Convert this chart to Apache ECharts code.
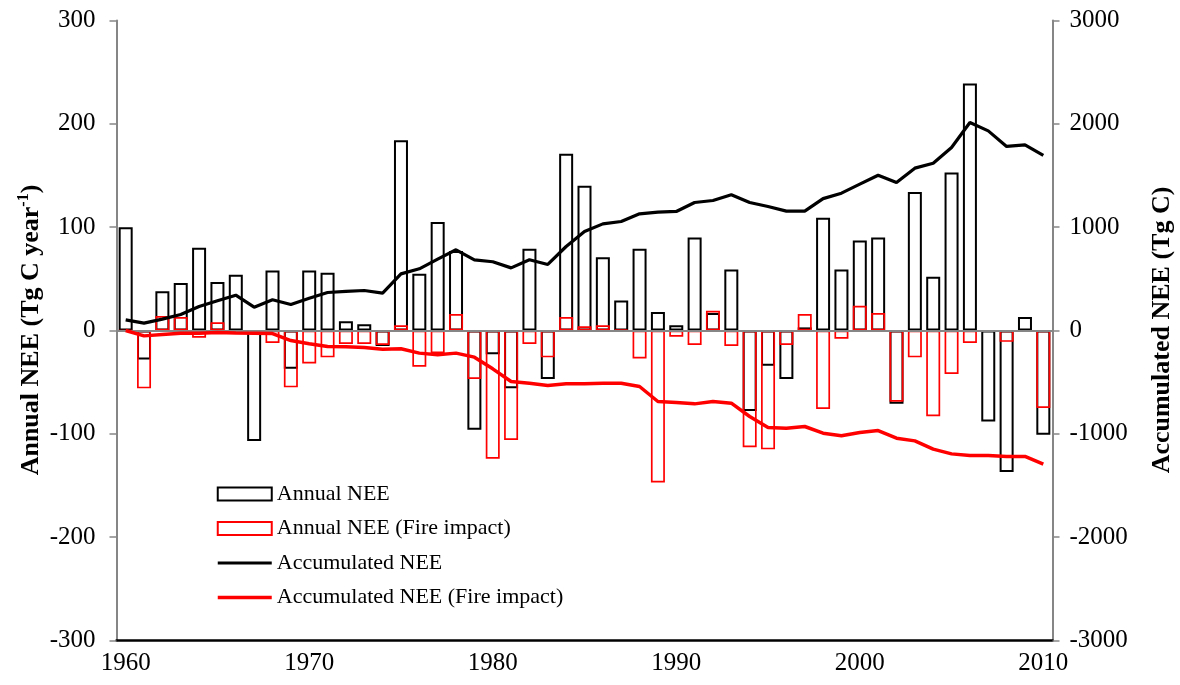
<!DOCTYPE html>
<html>
<head>
<meta charset="utf-8">
<script src="https://cdn.jsdelivr.net/npm/echarts@6/dist/echarts.min.js"></script>
<style>
  html, body { margin: 0; padding: 0; background: #fff; }
  #chart { width: 1180px; height: 685px; }
</style>
</head>
<body>
<div id="chart"></div>
<script>
// Years on the category axis
const years = ['1960','1961','1962','1963','1964','1965','1966','1967','1968','1969',
  '1970','1971','1972','1973','1974','1975','1976','1977','1978','1979',
  '1980','1981','1982','1983','1984','1985','1986','1987','1988','1989',
  '1990','1991','1992','1993','1994','1995','1996','1997','1998','1999',
  '2000','2001','2002','2003','2004','2005','2006','2007','2008','2009','2010'];

// Annual NEE (Tg C / year)
const annualNEE = [100, -28, 38, 46, 80, 47, 54, -107, 58, -37,
  58, 56, 9, 6, -15, 184, 55, 105, 77, -96,
  -23, -56, 79, -47, 171, 140, 71, 29, 79, 18,
  5, 90, 17, 59, -78, -34, -47, 3, 109, 59,
  87, 90, -71, 134, 52, 153, 239, -88, -137, 13, -101];

// Annual NEE including fire impact (Tg C / year)
const annualFire = [0, -56, 14, 13, -7, 8, -1, -2, -12, -55,
  -32, -26, -13, -13, -14, 5, -35, -22, 16, -47,
  -124, -106, -13, -26, 13, 4, 5, 1, -27, -147,
  -6, -14, 19, -15, -113, -115, -14, 16, -76, -8,
  24, 17, -69, -26, -83, -42, -12, -1, -11, -1, -75];

// Accumulated NEE (Tg C)
const accumNEE = [103, 71, 110, 155, 232, 287, 342, 226, 297, 252,
  313, 368, 379, 387, 361, 548, 597, 690, 781, 684,
  665, 606, 684, 639, 813, 958, 1032, 1055, 1129, 1145,
  1152, 1239, 1258, 1313, 1239, 1200, 1155, 1155, 1276, 1329,
  1416, 1503, 1432, 1571, 1619, 1771, 2013, 1932, 1781, 1797, 1694];

// Accumulated NEE including fire impact (Tg C)
const accumFire = [0, -52, -39, -26, -26, -19, -23, -26, -30, -97,
  -129, -155, -158, -165, -181, -177, -219, -235, -219, -258,
  -371, -494, -510, -532, -516, -516, -510, -510, -542, -687,
  -697, -710, -687, -703, -832, -939, -945, -929, -994, -1019,
  -987, -968, -1042, -1068, -1148, -1194, -1210, -1210, -1219, -1219, -1294];

const seriesNames = ['Annual NEE', 'Annual NEE (Fire impact)', 'Accumulated NEE', 'Accumulated NEE (Fire impact)'];

const serif = "'Liberation Serif', 'Times New Roman', serif";
const axisGray = '#868686';

const chart = echarts.init(document.getElementById('chart'), null, { renderer: 'canvas' });

chart.setOption({
  animation: false,
  backgroundColor: '#ffffff',
  textStyle: { fontFamily: serif, color: '#000' },
  grid: { left: 116.5, right: 127.5, top: 20.5, height: 620, containLabel: false },
  legend: {
    orient: 'vertical',
    left: 216,
    top: 483,
    padding: 0,
    itemWidth: 54,
    itemHeight: 13,
    itemGap: 12.5,
    textStyle: { fontFamily: serif, fontSize: 22, color: '#000', lineHeight: 22 },
    data: [
      { name: seriesNames[0], icon: 'rect', itemStyle: { color: 'rgba(0,0,0,0)', borderColor: '#000', borderWidth: 2 } },
      { name: seriesNames[1], icon: 'rect', itemStyle: { color: 'rgba(0,0,0,0)', borderColor: '#ff0000', borderWidth: 2 } },
      { name: seriesNames[2], itemStyle: { opacity: 0 }, lineStyle: { color: '#000', width: 3.2 } },
      { name: seriesNames[3], itemStyle: { opacity: 0 }, lineStyle: { color: '#ff0000', width: 3.5 } }
    ]
  },
  xAxis: {
    type: 'category',
    data: years,
    boundaryGap: true,
    axisLine: { onZero: false, lineStyle: { color: '#000', width: 2.5 } },
    axisTick: { show: false },
    axisLabel: { interval: 9, fontFamily: serif, fontSize: 25, color: '#000', margin: 10 },
    splitLine: { show: false }
  },
  yAxis: [
    {
      type: 'value', min: -300, max: 300, interval: 100,
      axisLine: { show: true, lineStyle: { color: axisGray, width: 2 } },
      axisTick: { show: true, inside: false, length: 7, lineStyle: { color: axisGray, width: 1.5 } },
      axisLabel: { fontFamily: serif, fontSize: 25, color: '#000', margin: 21 },
      splitLine: { show: false }
    },
    {
      type: 'value', min: -3000, max: 3000, interval: 1000, position: 'right',
      axisLine: { show: true, lineStyle: { color: axisGray, width: 2 } },
      axisTick: { show: true, inside: false, length: 7, lineStyle: { color: axisGray, width: 1.5 } },
      axisLabel: { fontFamily: serif, fontSize: 25, color: '#000', margin: 17, formatter: (v) => String(v) },
      splitLine: { show: false }
    }
  ],
  series: [
    {
      name: seriesNames[0],
      type: 'bar',
      yAxisIndex: 0,
      data: annualNEE,
      barWidth: 14,
      barGap: '-100%',
      z: 2,
      itemStyle: { color: 'rgba(0,0,0,0)', borderColor: '#000', borderWidth: 2 }
    },
    {
      name: seriesNames[1],
      type: 'bar',
      yAxisIndex: 0,
      data: annualFire,
      barWidth: 14,
      barGap: '-100%',
      z: 3,
      itemStyle: { color: 'rgba(0,0,0,0)', borderColor: '#ff0000', borderWidth: 1.7 },
      markLine: {
        silent: true,
        symbol: ['none', 'none'],
        label: { show: false },
        z: 4,
        lineStyle: { color: axisGray, width: 2, type: 'solid' },
        data: [{ yAxis: 0 }]
      }
    },
    {
      name: seriesNames[2],
      type: 'line',
      yAxisIndex: 1,
      data: accumNEE,
      symbol: 'none',
      z: 6,
      lineStyle: { color: '#000', width: 3.2 },
      itemStyle: { color: '#000' }
    },
    {
      name: seriesNames[3],
      type: 'line',
      yAxisIndex: 1,
      data: accumFire,
      symbol: 'none',
      z: 6,
      lineStyle: { color: '#ff0000', width: 3.5 },
      itemStyle: { color: '#ff0000' }
    }
  ],
  graphic: [
    {
      type: 'text',
      x: 30, y: 330,
      rotation: Math.PI / 2,
      style: {
        text: '{b|Annual NEE (Tg C year}{s|-1}{b|)}',
        align: 'center',
        verticalAlign: 'middle',
        rich: {
          b: { fontFamily: serif, fontSize: 26, fontWeight: 'bold', fill: '#000', lineHeight: 28, verticalAlign: 'bottom' },
          s: { fontFamily: serif, fontSize: 16, fontWeight: 'bold', fill: '#000', lineHeight: 28, verticalAlign: 'top' }
        }
      }
    },
    {
      type: 'text',
      x: 1162, y: 330,
      rotation: Math.PI / 2,
      style: {
        text: 'Accumulated NEE (Tg C)',
        align: 'center',
        verticalAlign: 'middle',
        fontFamily: serif, fontSize: 26, fontWeight: 'bold', fill: '#000'
      }
    }
  ]
});
</script>
</body>
</html>
